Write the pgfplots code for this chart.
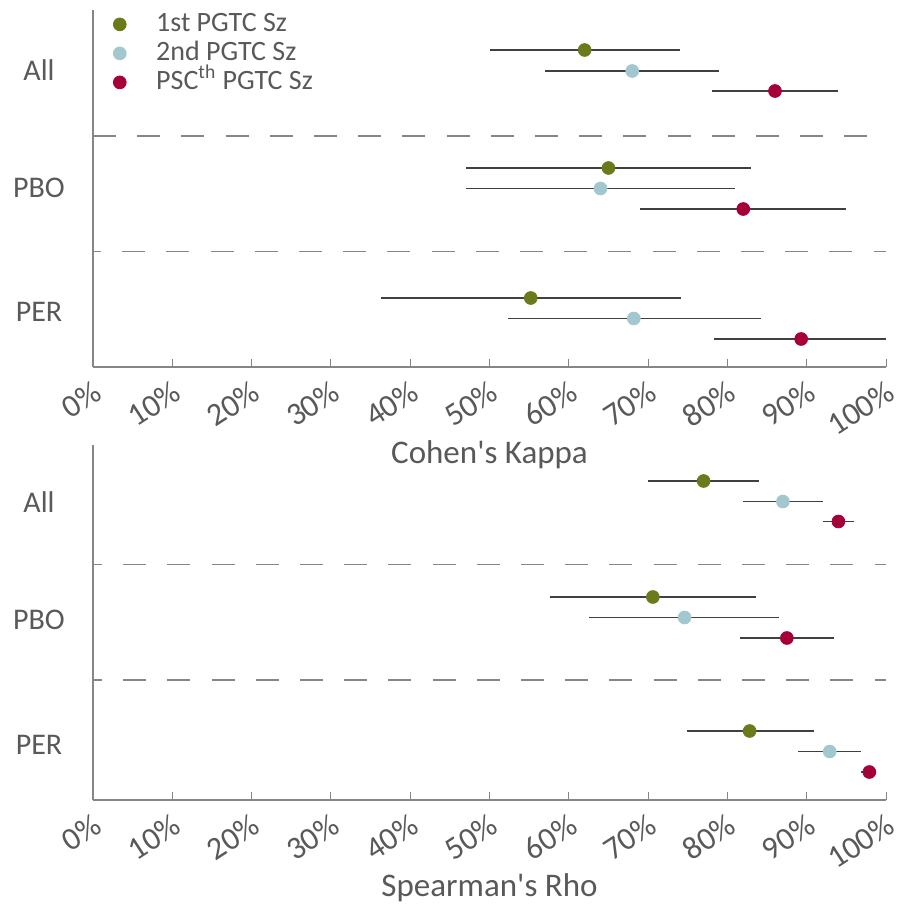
\documentclass[border=0pt]{standalone}
\usepackage{fontspec}
\setmainfont{Carlito}[Ligatures=TeXOff]
\usepackage{pgfplots}
\pgfplotsset{compat=1.18}
\definecolor{cgreen}{HTML}{6B7A1A}
\definecolor{cblue}{HTML}{A2C7CE}
\definecolor{cred}{HTML}{A5003A}
\definecolor{ctext}{HTML}{595959}
\definecolor{caxis}{HTML}{868686}
\definecolor{cbar}{HTML}{404040}
\pgfplotsset{
  forest/.style={
    scale only axis, width=396.5pt,
    xmin=0, xmax=100, y dir=reverse,
    axis x line*=bottom, axis y line*=left,
    axis line style={caxis, line width=0.65pt},
    xtick={0,10,...,100},
    xticklabel={\pgfmathprintnumber{\tick}\%},
    /pgf/number format/assume math mode=true,
    major tick length=4pt, tick align=inside,
    xtick style={caxis, line width=0.5pt},
    ytick style={draw=none},
    yticklabel style={font=\fontsize{15}{18}\selectfont, text=ctext, anchor=center, xshift=-27pt},
    xticklabel style={font=\fontsize{16}{19}\selectfont, text=ctext, xshift=2.5pt, yshift=-10.8pt, rotate=33, anchor=east, inner sep=0pt},
    xlabel style={font=\fontsize{16.5}{19}\selectfont, text=ctext, at={(axis description cs:0.5,0)}, anchor=center, yshift=-44pt},
    clip=false,
  },
  es/.style={only marks, mark=*, mark size=3.2pt, mark options={draw=#1, fill=#1}, color=#1,
    error bars/.cd, x dir=both, x explicit, error mark=none,
    error bar style={cbar, line width=0.55pt}},
  sep/.style={forget plot, no marks, color=caxis, line width=0.6pt, dash pattern=on 11.5pt off 10.6pt},
}
\begin{document}
\begin{tikzpicture}
\useasboundingbox (0,0) rectangle (448pt,-452pt);
% top panel
\begin{axis}[forest, at={(46.5pt,-183.5pt)}, anchor=south west,
  height=178.5pt, ymin=10, ymax=367,
  ytick={70,188,312}, yticklabels={All,PBO,PER},
  xlabel={Cohen's Kappa},
  legend style={at={(axis description cs:0,1)}, anchor=north west, xshift=10pt, yshift=0pt,
    draw=none, fill=none, inner sep=0pt, row sep=0.5pt,
    font=\fontsize{14}{15}\selectfont, text=ctext,
    nodes={inner sep=0.5pt, text height=10pt, text depth=3pt},
    /tikz/every odd column/.append style={column sep=14.5pt}},
  legend cell align=left]
\addplot[sep] coordinates {(0,136) (100,136)};
\addplot[sep, dash phase=7.5pt] coordinates {(0,251.5) (100,251.5)};
\addplot[es=cgreen] coordinates {
  (62,50) += (12,0) -= (12,0)
  (65,168) += (18,0) -= (18,0)
  (55.2,298) += (19,0) -= (18.9,0)
};
\addplot[es=cblue] coordinates {
  (68,71) += (11,0) -= (11,0)
  (64,188.5) += (17,0) -= (17,0)
  (68.2,318.5) += (16,0) -= (15.9,0)
};
\addplot[es=cred] coordinates {
  (86,91) += (8,0) -= (8,0)
  (82,209) += (13,0) -= (13,0)
  (89.3,339) += (10.7,0) -= (11,0)
};
\legend{1st PGTC Sz, 2nd PGTC Sz, PSC\textsuperscript{th} PGTC Sz}
\end{axis}
% bottom panel
\begin{axis}[forest, at={(46.5pt,-400pt)}, anchor=south west,
  height=177.5pt, ymin=445, ymax=800,
  ytick={502,620,745}, yticklabels={All,PBO,PER},
  xlabel={Spearman's Rho}]
\addplot[sep, dash phase=7pt] coordinates {(0,564.5) (100,564.5)};
\addplot[sep, dash phase=7pt] coordinates {(0,680) (100,680)};
\addplot[es=cgreen] coordinates {
  (77,481) += (7,0) -= (7,0)
  (70.6,597) += (13,0) -= (13,0)
  (82.8,731) += (8.1,0) -= (7.9,0)
};
\addplot[es=cblue] coordinates {
  (87,501.5) += (5,0) -= (5,0)
  (74.6,617.5) += (11.9,0) -= (12,0)
  (92.9,751.5) += (3.9,0) -= (4,0)
};
\addplot[es=cred] coordinates {
  (94,521.5) += (2,0) -= (2,0)
  (87.5,638) += (6,0) -= (5.9,0)
  (97.9,772) += (0.9,0) -= (1,0)
};
\end{axis}
\end{tikzpicture}
\end{document}
